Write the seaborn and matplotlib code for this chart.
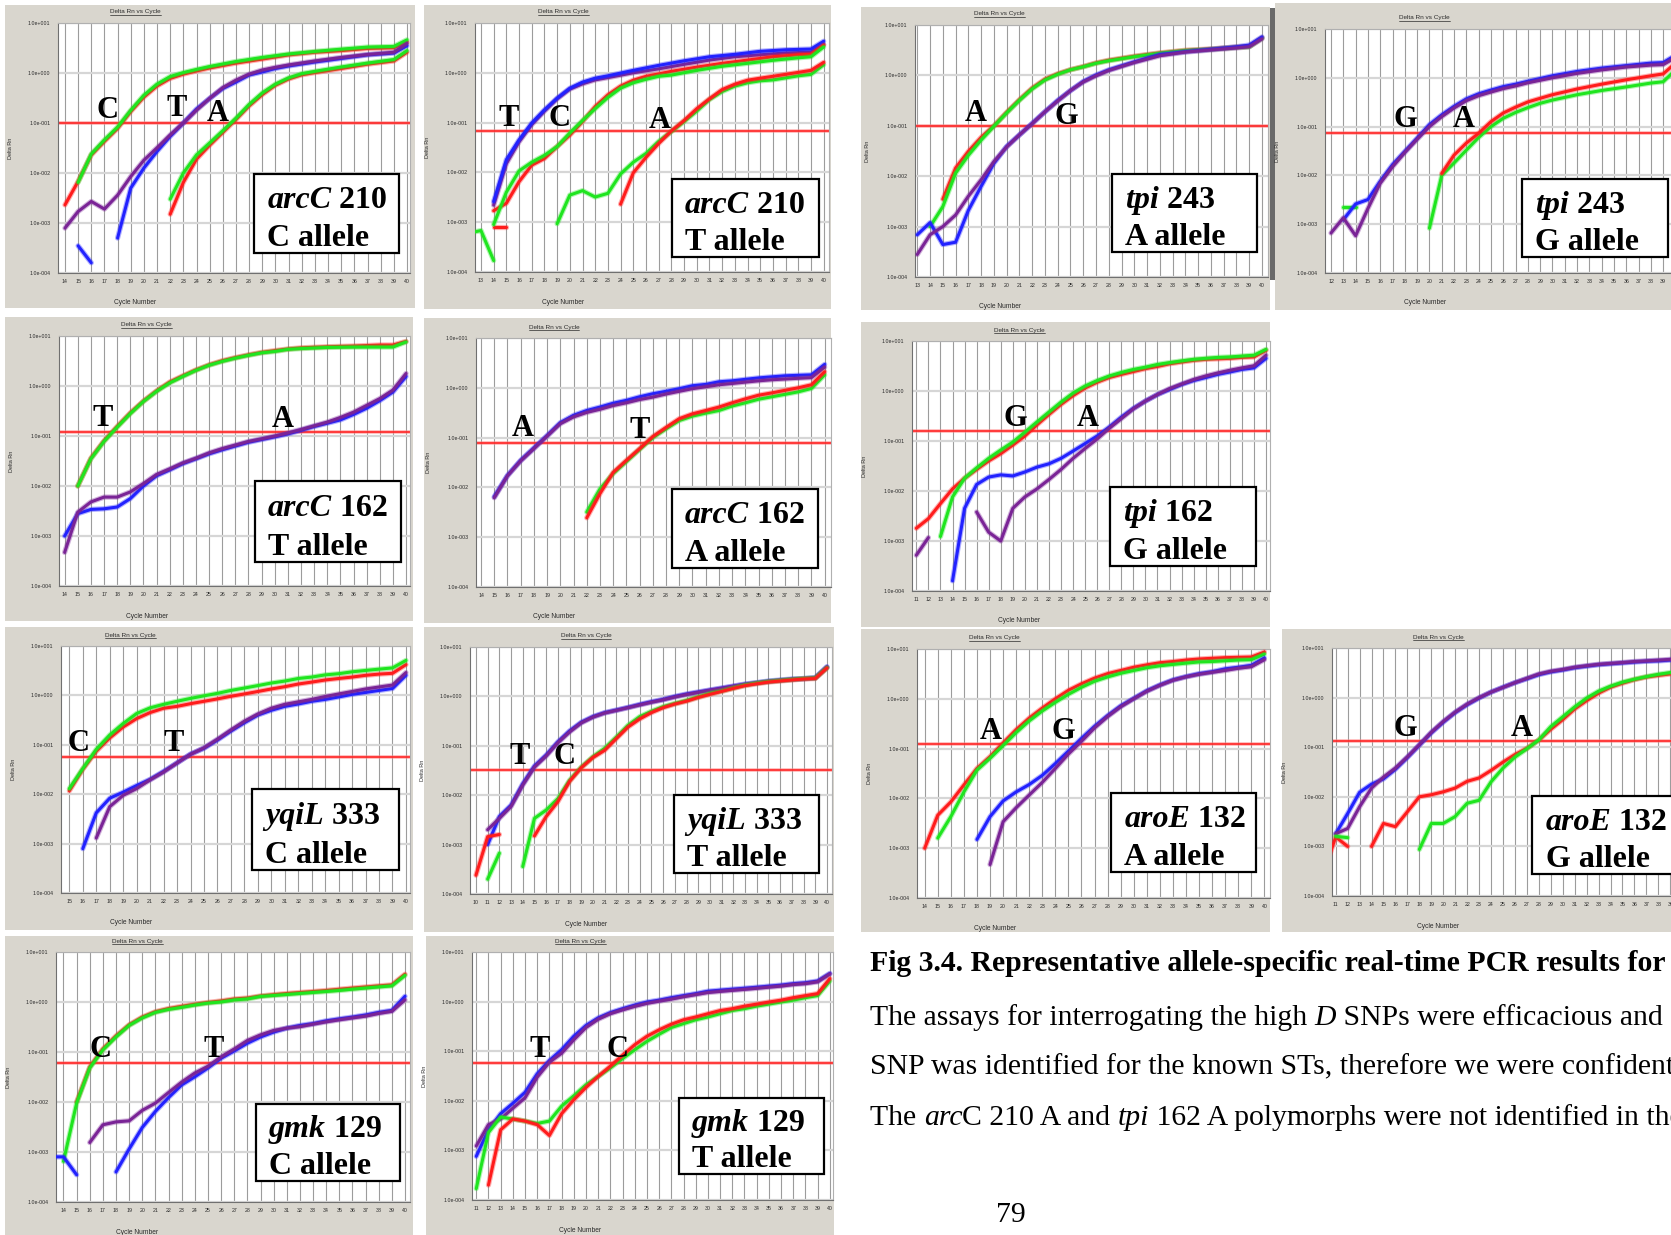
import numpy as np
import pandas as pd
import matplotlib
matplotlib.use("Agg")
import matplotlib.pyplot as plt
import matplotlib.patheffects as pe
from matplotlib.patches import Rectangle
from matplotlib.lines import Line2D
from matplotlib.ticker import NullLocator
import seaborn as sns

# ======================= DATA (Delta Rn) =======================
# each series: (colour, [(cycle, delta_rn), ...])
ARCC210_C = [
    ("red", [(14,2.3e-3),(15,6.8e-3),(16,2.3e-2),(17,4.3e-2),(18,7.8e-2),(19,0.17),(20,0.33),(21,0.55),(22,0.78),(23,0.95),(24,1.1),(25,1.26),(27,1.58),(29,1.9),(31,2.3),(33,2.6),(35,2.8),(37,3.1),(39,3.2),(40,4.2)]),
    ("green", [(15,6.5e-3),(16,2.4e-2),(17,4.6e-2),(18,8.3e-2),(19,0.18),(20,0.36),(21,0.6),(22,0.85),(23,1.02),(24,1.18),(25,1.35),(27,1.7),(29,2.05),(31,2.4),(33,2.7),(35,3.0),(37,3.3),(39,3.4),(40,4.6)]),
    ("blue", [(15,3.5e-4),(16,1.6e-4)]),
    ("blue", [(18,5.0e-4),(19,5.0e-3),(20,1.26e-2),(21,2.7e-2),(22,5.4e-2),(23,0.1),(24,0.19),(25,0.31),(26,0.49),(27,0.66),(28,0.91),(29,1.05),(30,1.23),(31,1.38),(33,1.66),(35,1.95),(37,2.3),(39,2.5),(40,3.5)]),
    ("purple", [(14,7.9e-4),(15,1.7e-3),(16,2.7e-3),(17,1.9e-3),(18,3.6e-3),(19,8.5e-3),(20,1.8e-2),(21,3.2e-2),(22,5.8e-2),(23,0.1),(24,0.18),(25,0.31),(26,0.51),(27,0.72),(28,0.95),(29,1.15),(30,1.3),(31,1.45),(33,1.74),(35,2.05),(37,2.35),(39,2.6),(40,3.9)]),
    ("red", [(22,1.5e-3),(23,6.5e-3),(24,1.9e-2),(25,3.6e-2),(26,6.5e-2),(27,0.118),(28,0.22),(29,0.37),(30,0.57),(31,0.76),(32,0.92),(33,1.02),(35,1.23),(37,1.5),(39,1.74),(40,2.6)]),
    ("green", [(22,3.0e-3),(23,1.0e-2),(24,2.3e-2),(25,4.0e-2),(26,7.0e-2),(27,0.125),(28,0.235),(29,0.4),(30,0.6),(31,0.8),(32,0.97),(33,1.08),(35,1.32),(37,1.58),(39,1.86),(40,2.8)]),
]
ARCC210_T = [
    ("purple", [(14,2.2e-3),(15,1.5e-2),(16,4.1e-2),(17,0.091),(18,0.17),(19,0.30),(20,0.47),(21,0.6),(22,0.72),(23,0.8),(25,1.0),(27,1.2),(29,1.48),(31,1.8),(33,2.1),(35,2.3),(37,2.5),(39,2.6),(40,3.7)]),
    ("blue", [(14,2.6e-3),(15,1.8e-2),(16,4.5e-2),(17,0.098),(18,0.18),(19,0.31),(20,0.49),(21,0.65),(22,0.78),(23,0.87),(25,1.12),(27,1.41),(29,1.74),(31,2.1),(33,2.35),(35,2.7),(37,2.9),(39,3.0),(40,4.3)]),
    ("red", [(14,8e-4),(15,8e-4)]),
    ("red", [(14,1.7e-3),(15,2.4e-3),(16,6.5e-3),(17,1.4e-2),(18,1.9e-2),(19,3.3e-2),(20,5.6e-2),(21,0.105),(22,0.21),(23,0.36),(24,0.54),(25,0.71),(26,0.85),(27,0.95),(28,1.07),(30,1.3),(32,1.55),(34,1.8),(36,2.1),(38,2.3),(39,2.35),(40,3.6)]),
    ("green", [(12,6.0e-4),(13,6.8e-4),(14,1.7e-4)]),
    ("green", [(14,9e-4),(15,4e-3),(16,1.07e-2),(17,1.6e-2),(18,2.2e-2),(19,3.3e-2),(20,6.2e-2),(21,0.11),(22,0.19),(23,0.32),(24,0.49),(25,0.63),(26,0.74),(27,0.85),(28,0.9),(30,1.12),(32,1.35),(34,1.55),(36,1.78),(38,2.0),(39,2.1),(40,3.3)]),
    ("green", [(19,9.3e-4),(20,3.5e-3),(21,4.3e-3),(22,3.2e-3),(23,3.8e-3),(24,9.3e-3),(25,1.6e-2),(26,2.4e-2),(27,4.2e-2),(28,6.6e-2),(29,0.105),(30,0.17),(31,0.29),(32,0.42),(33,0.54),(34,0.63),(35,0.69),(36,0.72),(37,0.79),(38,0.87),(39,0.93),(40,1.45)]),
    ("red", [(24,2.3e-3),(25,9.8e-3),(26,2.0e-2),(27,3.8e-2),(28,6.8e-2),(29,0.11),(30,0.19),(31,0.30),(32,0.46),(33,0.59),(34,0.71),(35,0.78),(36,0.85),(37,0.93),(38,1.02),(39,1.12),(40,1.62)]),
]
TPI243_A = [
    ("red", [(15,3.5e-3),(16,1.45e-2),(17,3.1e-2),(18,5.9e-2),(19,0.1),(20,0.185),(21,0.33),(22,0.56),(23,0.84),(24,1.08),(25,1.3),(26,1.5),(27,1.77),(28,2.0),(30,2.4),(32,2.8),(34,3.15),(36,3.35),(38,3.65),(39,3.75),(40,5.6)]),
    ("green", [(14,1e-3),(15,2.5e-3),(16,1.15e-2),(17,2.6e-2),(18,5.2e-2),(19,0.098),(20,0.18),(21,0.32),(22,0.54),(23,0.81),(24,1.05),(25,1.29),(26,1.48),(27,1.74),(28,1.95),(30,2.35),(32,2.75),(34,3.1),(36,3.3),(38,3.6),(39,3.7),(40,5.5)]),
    ("blue", [(13,6.9e-4),(14,1.2e-3),(15,4.4e-4),(16,4.9e-4),(17,2.1e-3),(18,6.3e-3),(19,1.8e-2),(20,3.9e-2),(21,6.6e-2),(22,0.112),(23,0.19),(24,0.32),(25,0.5),(26,0.76),(27,1.02),(28,1.29),(29,1.55),(30,1.86),(31,2.2),(32,2.6),(34,2.95),(36,3.3),(38,3.7),(39,4.0),(40,5.8)]),
    ("purple", [(13,2.8e-4),(14,6.9e-4),(15,1e-3),(16,1.7e-3),(17,4e-3),(18,8.5e-3),(19,1.95e-2),(20,3.8e-2),(21,6.6e-2),(22,0.11),(23,0.19),(24,0.31),(25,0.5),(26,0.74),(27,0.98),(28,1.25),(29,1.5),(30,1.8),(31,2.1),(32,2.45),(34,2.9),(36,3.2),(38,3.5),(39,3.7),(40,5.3)]),
]
TPI243_G = [
    ("green", [(13,2.3e-3),(14,2.3e-3)]),
    ("blue", [(13,1.23e-3),(14,2.6e-3),(15,3.2e-3),(16,7.6e-3),(17,1.66e-2),(18,3.1e-2),(19,5.8e-2),(20,0.11),(21,0.174),(22,0.26),(23,0.37),(24,0.47),(25,0.56),(26,0.66),(27,0.74),(28,0.85),(30,1.1),(32,1.35),(34,1.58),(36,1.78),(38,2.0),(39,2.05),(40,2.9)]),
    ("purple", [(12,6.6e-4),(13,1.35e-3),(14,5.8e-4),(15,2.1e-3),(16,6.9e-3),(17,1.5e-2),(18,2.95e-2),(19,5.5e-2),(20,0.1),(21,0.16),(22,0.24),(23,0.34),(24,0.43),(25,0.51),(26,0.6),(27,0.68),(28,0.79),(30,1.0),(32,1.23),(34,1.45),(36,1.66),(38,1.82),(39,1.86),(40,2.6)]),
    ("green", [(20,8.3e-4),(21,1.0e-2),(22,1.8e-2),(23,3.3e-2),(24,6.0e-2),(25,0.1),(26,0.148),(27,0.195),(28,0.245),(29,0.3),(30,0.35),(32,0.45),(34,0.55),(36,0.65),(38,0.78),(39,0.83),(40,1.45)]),
    ("red", [(21,1.1e-2),(22,2.6e-2),(23,4.6e-2),(24,7.3e-2),(25,0.126),(26,0.19),(27,0.25),(28,0.32),(29,0.38),(30,0.45),(32,0.59),(34,0.74),(36,0.91),(38,1.1),(39,1.2),(40,2.0)]),
]
ARCC162_T = [
    ("red", [(15,1.0e-2),(16,3.6e-2),(17,8.0e-2),(18,0.155),(19,0.29),(20,0.5),(21,0.8),(22,1.2),(23,1.6),(24,2.1),(25,2.65),(26,3.2),(27,3.7),(28,4.2),(29,4.7),(30,5.1),(31,5.5),(32,5.8),(34,6.1),(36,6.3),(38,6.6),(39,6.6),(40,7.8)]),
    ("green", [(15,1.0e-2),(16,3.5e-2),(17,7.8e-2),(18,0.15),(19,0.28),(20,0.49),(21,0.78),(22,1.15),(23,1.55),(24,2.05),(25,2.6),(26,3.1),(27,3.6),(28,4.1),(29,4.6),(30,4.9),(31,5.4),(32,5.6),(34,5.9),(36,6.0),(38,6.0),(39,6.0),(40,7.6)]),
    ("blue", [(14,1.0e-3),(15,2.8e-3),(16,3.4e-3),(17,3.5e-3),(18,3.8e-3),(19,5.6e-3),(20,1.0e-2),(21,1.6e-2),(22,2.1e-2),(23,2.8e-2),(24,3.5e-2),(25,4.4e-2),(26,5.3e-2),(27,6.3e-2),(28,7.5e-2),(29,8.5e-2),(30,9.6e-2),(31,0.11),(32,0.13),(33,0.155),(34,0.18),(35,0.21),(36,0.27),(37,0.36),(38,0.51),(39,0.76),(40,1.55)]),
    ("purple", [(14,4.7e-4),(15,3.0e-3),(16,4.8e-3),(17,6.0e-3),(18,6.0e-3),(19,7.6e-3),(20,1.12e-2),(21,1.7e-2),(22,2.2e-2),(23,2.9e-2),(24,3.6e-2),(25,4.6e-2),(26,5.6e-2),(27,6.6e-2),(28,7.8e-2),(29,8.8e-2),(30,0.1),(31,0.115),(32,0.135),(33,0.16),(34,0.19),(35,0.235),(36,0.3),(37,0.41),(38,0.56),(39,0.83),(40,1.78)]),
]
ARCC162_A = [
    ("blue", [(15,6.5e-3),(16,1.74e-2),(17,3.5e-2),(18,6.2e-2),(19,0.11),(20,0.2),(21,0.28),(22,0.35),(23,0.41),(24,0.49),(25,0.56),(26,0.66),(27,0.76),(28,0.85),(29,0.96),(30,1.1),(31,1.17),(32,1.32),(33,1.38),(34,1.48),(35,1.58),(36,1.66),(37,1.74),(38,1.78),(39,1.82),(40,2.95)]),
    ("purple", [(15,6.2e-3),(16,1.7e-2),(17,3.4e-2),(18,6.0e-2),(19,0.107),(20,0.19),(21,0.26),(22,0.32),(23,0.37),(24,0.44),(25,0.5),(26,0.58),(27,0.65),(28,0.75),(29,0.85),(30,0.96),(31,1.05),(32,1.15),(33,1.22),(34,1.3),(35,1.38),(36,1.45),(37,1.5),(38,1.55),(39,1.6),(40,2.6)]),
    ("green", [(22,3.2e-3),(23,9.3e-3),(24,1.9e-2),(25,3.3e-2),(26,5.8e-2),(27,0.1),(28,0.15),(29,0.22),(30,0.27),(31,0.31),(32,0.35),(33,0.43),(34,0.5),(35,0.59),(36,0.66),(37,0.74),(38,0.83),(39,0.97),(40,1.82)]),
    ("red", [(22,2.45e-3),(23,7.5e-3),(24,2.0e-2),(25,3.5e-2),(26,6.0e-2),(27,0.105),(28,0.16),(29,0.24),(30,0.3),(31,0.35),(32,0.41),(33,0.5),(34,0.6),(35,0.71),(36,0.79),(37,0.89),(38,1.0),(39,1.15),(40,2.1)]),
]
TPI162_G = [
    ("red", [(11,1.8e-3),(12,2.8e-3),(13,5.6e-3),(14,1.1e-2),(15,1.8e-2),(16,2.7e-2),(17,4.0e-2),(18,5.6e-2),(19,8.3e-2),(20,0.126),(21,0.21),(22,0.34),(23,0.54),(24,0.81),(25,1.15),(26,1.5),(27,1.86),(28,2.15),(29,2.45),(30,2.8),(31,3.1),(32,3.5),(33,3.8),(34,4.1),(35,4.3),(36,4.4),(37,4.5),(38,4.7),(39,4.8),(40,6.5)]),
    ("green", [(13,1.23e-3),(14,7.6e-3),(15,1.8e-2),(16,2.9e-2),(17,4.5e-2),(18,6.6e-2),(19,9.5e-2),(20,0.15),(21,0.24),(22,0.38),(23,0.6),(24,0.91),(25,1.26),(26,1.62),(27,2.0),(28,2.35),(29,2.7),(30,3.0),(31,3.4),(32,3.7),(33,4.0),(34,4.3),(35,4.5),(36,4.7),(37,4.8),(38,5.0),(39,5.2),(40,6.8)]),
    ("blue", [(14,1.6e-4),(15,4.5e-3),(16,1.35e-2),(17,1.9e-2),(18,2.1e-2),(19,2.0e-2),(20,2.4e-2),(21,3.0e-2),(22,3.5e-2),(23,4.5e-2),(24,6.3e-2),(25,8.9e-2),(26,0.126),(27,0.19),(28,0.3),(29,0.45),(30,0.63),(31,0.85),(32,1.07),(33,1.35),(34,1.62),(35,1.86),(36,2.15),(37,2.4),(38,2.7),(39,2.9),(40,4.5)]),
    ("purple", [(11,5.2e-4),(12,1.17e-3)]),
    ("purple", [(16,3.8e-3),(17,1.5e-3),(18,1.0e-3),(19,4.5e-3),(20,7.6e-3),(21,1.1e-2),(22,1.7e-2),(23,2.7e-2),(24,4.5e-2),(25,7.1e-2),(26,0.11),(27,0.18),(28,0.28),(29,0.44),(30,0.63),(31,0.85),(32,1.12),(33,1.38),(34,1.7),(35,2.0),(36,2.3),(37,2.6),(38,2.9),(39,3.2),(40,5.2)]),
]
YQIL333_C = [
    ("red", [(15,1.17e-2),(16,3.2e-2),(17,7.4e-2),(18,0.138),(19,0.23),(20,0.34),(21,0.45),(22,0.55),(23,0.6),(24,0.68),(25,0.76),(26,0.85),(27,0.96),(28,1.07),(29,1.2),(30,1.35),(31,1.5),(32,1.7),(33,1.86),(34,2.05),(35,2.2),(36,2.35),(37,2.55),(38,2.7),(39,2.8),(40,4.2)]),
    ("green", [(15,1.3e-2),(16,3.3e-2),(17,8.1e-2),(18,0.158),(19,0.27),(20,0.43),(21,0.56),(22,0.66),(23,0.76),(24,0.87),(25,0.98),(26,1.1),(27,1.26),(28,1.41),(29,1.58),(30,1.78),(31,1.95),(32,2.2),(33,2.35),(34,2.6),(35,2.75),(36,3.0),(37,3.2),(38,3.4),(39,3.6),(40,5.1)]),
    ("blue", [(16,7.9e-4),(17,4.2e-3),(18,8.3e-3),(19,1.1e-2),(20,1.5e-2),(21,2.0e-2),(22,2.9e-2),(23,4.3e-2),(24,6.5e-2),(25,8.5e-2),(26,0.125),(27,0.19),(28,0.28),(29,0.4),(30,0.5),(31,0.6),(32,0.67),(33,0.76),(34,0.83),(35,0.93),(36,1.05),(37,1.15),(38,1.26),(39,1.38),(40,2.55)]),
    ("purple", [(17,1.3e-3),(18,5.6e-3),(19,9.5e-3),(20,1.3e-2),(21,1.95e-2),(22,2.8e-2),(23,4.3e-2),(24,6.4e-2),(25,8.7e-2),(26,0.13),(27,0.2),(28,0.3),(29,0.42),(30,0.55),(31,0.66),(32,0.74),(33,0.83),(34,0.95),(35,1.07),(36,1.2),(37,1.35),(38,1.48),(39,1.62),(40,2.9)]),
]
YQIL333_T = [
    ("blue", [(11,1e-3),(12,3.7e-3),(13,6.3e-3),(14,1.7e-2),(15,3.9e-2),(16,6.5e-2),(17,0.12),(18,0.2),(19,0.3),(20,0.39),(21,0.47),(22,0.53),(23,0.6),(24,0.69),(25,0.78),(26,0.87),(27,1.0),(28,1.12),(29,1.23),(30,1.35),(31,1.48),(32,1.62),(33,1.78),(34,1.9),(35,2.05),(36,2.15),(37,2.25),(38,2.3),(39,2.4),(40,4.0)]),
    ("purple", [(11,2.0e-3),(12,3.4e-3),(13,5.9e-3),(14,1.6e-2),(15,3.7e-2),(16,6.2e-2),(17,0.115),(18,0.19),(19,0.29),(20,0.38),(21,0.46),(22,0.52),(23,0.59),(24,0.67),(25,0.76),(26,0.85),(27,0.97),(28,1.09),(29,1.2),(30,1.33),(31,1.45),(32,1.6),(33,1.75),(34,1.88),(35,2.0),(36,2.1),(37,2.2),(38,2.27),(39,2.36),(40,3.9)]),
    ("red", [(10,2.4e-4),(11,1.45e-3),(12,1.6e-3)]),
    ("green", [(11,2.0e-4),(12,6.7e-4)]),
    ("green", [(14,3.6e-4),(15,3.4e-3),(16,5.0e-3),(17,8.5e-3),(18,2.0e-2),(19,3.7e-2),(20,6.0e-2),(21,8.9e-2),(22,0.15),(23,0.26),(24,0.39),(25,0.5),(26,0.62),(27,0.72),(28,0.83),(29,0.98),(30,1.15),(31,1.29),(32,1.48),(33,1.7),(34,1.86),(35,2.0),(36,2.1),(37,2.2),(38,2.3),(39,2.35),(40,3.8)]),
    ("red", [(15,1.5e-3),(16,3.7e-3),(17,7.4e-3),(18,1.9e-2),(19,3.6e-2),(20,5.8e-2),(21,8.1e-2),(22,0.14),(23,0.24),(24,0.35),(25,0.47),(26,0.59),(27,0.7),(28,0.8),(29,0.95),(30,1.1),(31,1.26),(32,1.45),(33,1.65),(34,1.8),(35,1.95),(36,2.05),(37,2.15),(38,2.25),(39,2.3),(40,3.75)]),
]
AROE132_A = [
    ("red", [(14,1.0e-3),(15,4.6e-3),(16,8.5e-3),(17,1.86e-2),(18,4.0e-2),(19,6.9e-2),(20,0.13),(21,0.24),(22,0.41),(23,0.65),(24,1.0),(25,1.48),(26,2.0),(27,2.6),(28,3.2),(29,3.7),(30,4.3),(31,4.8),(32,5.3),(33,5.6),(34,6.0),(35,6.3),(36,6.5),(37,6.7),(38,6.8),(39,6.9),(40,8.7)]),
    ("green", [(15,1.6e-3),(16,4.3e-3),(17,1.35e-2),(18,3.7e-2),(19,6.4e-2),(20,0.115),(21,0.21),(22,0.36),(23,0.57),(24,0.85),(25,1.23),(26,1.7),(27,2.25),(28,2.75),(29,3.25),(30,3.7),(31,4.2),(32,4.6),(33,4.9),(34,5.2),(35,5.5),(36,5.6),(37,5.8),(38,6.0),(39,6.1),(40,7.9)]),
    ("blue", [(18,1.5e-3),(19,4.3e-3),(20,8.9e-3),(21,1.35e-2),(22,1.9e-2),(23,2.9e-2),(24,5.0e-2),(25,8.9e-2),(26,0.16),(27,0.28),(28,0.46),(29,0.72),(30,1.02),(31,1.45),(32,1.9),(33,2.4),(34,2.8),(35,3.2),(36,3.5),(37,4.0),(38,4.3),(39,4.7),(40,6.6)]),
    ("purple", [(19,4.7e-4),(20,3.4e-3),(21,6.5e-3),(22,1.17e-2),(23,2.1e-2),(24,4.0e-2),(25,7.8e-2),(26,0.14),(27,0.26),(28,0.44),(29,0.69),(30,1.0),(31,1.41),(32,1.86),(33,2.35),(34,2.75),(35,3.1),(36,3.4),(37,3.7),(38,4.1),(39,4.4),(40,6.1)]),
]
AROE132_G = [
    ("blue", [(11,1.8e-3),(12,4.6e-3),(13,1.23e-2),(14,1.8e-2),(15,2.3e-2),(16,3.6e-2),(17,6.2e-2),(18,0.11),(19,0.195),(20,0.32),(21,0.5),(22,0.72),(23,0.98),(24,1.29),(25,1.62),(26,2.0),(27,2.4),(28,2.9),(29,3.3),(30,3.6),(31,4.0),(32,4.3),(33,4.6),(34,4.8),(35,5.0),(36,5.2),(37,5.4),(38,5.5),(39,5.7),(40,5.9)]),
    ("purple", [(11,1.8e-3),(12,2.3e-3),(13,6.3e-3),(14,1.5e-2),(15,2.5e-2),(16,3.8e-2),(17,6.4e-2),(18,0.112),(19,0.2),(20,0.33),(21,0.51),(22,0.74),(23,1.0),(24,1.29),(25,1.6),(26,2.0),(27,2.45),(28,3.0),(29,3.4),(30,3.7),(31,4.1),(32,4.4),(33,4.7),(34,4.9),(35,5.1),(36,5.35),(37,5.5),(38,5.7),(39,5.9),(40,6.1)]),
    ("red", [(10,3.0e-4),(11,1.55e-3),(12,1.0e-3)]),
    ("green", [(11,1.6e-3),(12,1.5e-3)]),
    ("red", [(14,1.0e-3),(15,2.9e-3),(16,2.5e-3),(17,5.0e-3),(18,1.0e-2),(19,1.1e-2),(20,1.26e-2),(21,1.5e-2),(22,2.05e-2),(23,2.4e-2),(24,3.4e-2),(25,5.0e-2),(26,7.1e-2),(27,9.5e-2),(28,0.14),(29,0.23),(30,0.36),(31,0.59),(32,0.87),(33,1.23),(34,1.62),(35,1.95),(36,2.3),(37,2.6),(38,2.8),(39,3.0),(40,3.3)]),
    ("green", [(18,8.7e-4),(19,2.9e-3),(20,2.9e-3),(21,4.0e-3),(22,7.4e-3),(23,8.5e-3),(24,2.0e-2),(25,3.8e-2),(26,6.3e-2),(27,9.3e-2),(28,0.14),(29,0.26),(30,0.41),(31,0.65),(32,0.98),(33,1.35),(34,1.7),(35,2.05),(36,2.35),(37,2.65),(38,2.95),(39,3.2),(40,3.5)]),
]
GMK129_C = [
    ("red", [(15,1.0e-2),(16,5e-2),(17,0.115),(18,0.21),(19,0.35),(20,0.5),(21,0.64),(22,0.74),(23,0.82),(24,0.9),(25,0.98),(26,1.05),(27,1.15),(28,1.2),(29,1.32),(30,1.4),(31,1.48),(32,1.55),(33,1.62),(34,1.7),(35,1.8),(36,1.9),(37,2.0),(38,2.1),(39,2.2),(40,3.6)]),
    ("green", [(14,6.5e-4),(15,9.5e-3),(16,4.8e-2),(17,0.11),(18,0.2),(19,0.34),(20,0.48),(21,0.62),(22,0.71),(23,0.78),(24,0.87),(25,0.95),(26,1.0),(27,1.1),(28,1.15),(29,1.29),(30,1.35),(31,1.41),(32,1.48),(33,1.55),(34,1.62),(35,1.7),(36,1.8),(37,1.9),(38,2.0),(39,2.1),(40,3.4)]),
    ("blue", [(13,8e-4),(14,8e-4),(15,3.5e-4)]),
    ("blue", [(18,4e-4),(19,1.15e-3),(20,3.1e-3),(21,6.5e-3),(22,1.23e-2),(23,2.2e-2),(24,3.2e-2),(25,4.8e-2),(26,7.5e-2),(27,0.105),(28,0.15),(29,0.2),(30,0.25),(31,0.3),(32,0.34),(33,0.37),(34,0.42),(35,0.46),(36,0.5),(37,0.55),(38,0.62),(39,0.68),(40,1.3)]),
    ("purple", [(16,1.55e-3),(17,3.5e-3),(18,4e-3),(19,4.2e-3),(20,6.8e-3),(21,9.5e-3),(22,1.55e-2),(23,2.5e-2),(24,3.8e-2),(25,5.2e-2),(26,8.0e-2),(27,0.115),(28,0.17),(29,0.22),(30,0.27),(31,0.3),(32,0.32),(33,0.36),(34,0.4),(35,0.44),(36,0.48),(37,0.52),(38,0.59),(39,0.65),(40,1.1)]),
]
GMK129_T = [
    ("blue", [(11,7.6e-4),(12,2.6e-3),(13,5.5e-3),(14,8.9e-3),(15,1.48e-2),(16,3.5e-2),(17,6.5e-2),(18,0.107),(19,0.2),(20,0.33),(21,0.47),(22,0.6),(23,0.72),(24,0.85),(25,0.98),(26,1.07),(27,1.2),(28,1.32),(29,1.45),(30,1.62),(31,1.7),(32,1.78),(33,1.86),(34,1.95),(35,2.05),(36,2.15),(37,2.3),(38,2.4),(39,2.6),(40,3.7)]),
    ("purple", [(11,1.23e-3),(12,3.3e-3),(13,4.3e-3),(14,7.1e-3),(15,1.15e-2),(16,3.0e-2),(17,6.0e-2),(18,9.1e-2),(19,0.17),(20,0.3),(21,0.44),(22,0.57),(23,0.68),(24,0.8),(25,0.92),(26,1.02),(27,1.12),(28,1.25),(29,1.38),(30,1.52),(31,1.6),(32,1.68),(33,1.76),(34,1.85),(35,1.95),(36,2.05),(37,2.2),(38,2.3),(39,2.5),(40,3.6)]),
    ("green", [(11,1.7e-4),(12,2.3e-3),(13,4.7e-3),(14,4.3e-3),(15,3.9e-3),(16,3.5e-3),(17,3.9e-3),(18,7.8e-3),(19,1.26e-2),(20,2.1e-2),(21,3.1e-2),(22,4.6e-2),(23,7.1e-2),(24,0.107),(25,0.158),(26,0.22),(27,0.3),(28,0.36),(29,0.43),(30,0.49),(31,0.57),(32,0.66),(33,0.72),(34,0.81),(35,0.89),(36,0.98),(37,1.07),(38,1.2),(39,1.32),(40,2.6)]),
    ("red", [(12,2e-4),(13,2.6e-3),(14,4.3e-3),(15,3.9e-3),(16,3.3e-3),(17,2.0e-3),(18,5.5e-3),(19,1.05e-2),(20,1.86e-2),(21,3.1e-2),(22,5.0e-2),(23,8.3e-2),(24,0.135),(25,0.2),(26,0.27),(27,0.35),(28,0.43),(29,0.49),(30,0.57),(31,0.66),(32,0.72),(33,0.81),(34,0.89),(35,0.98),(36,1.07),(37,1.2),(38,1.32),(39,1.45),(40,2.9)]),
]

# thresholds (red horizontal lines)
THR_ARCC210_C, THR_ARCC210_T = 0.10, 0.068
THR_TPI243_A, THR_TPI243_G = 0.10, 0.073
THR_ARCC162_T, THR_ARCC162_A, THR_TPI162_G = 0.12, 0.079, 0.158
THR_YQIL333_C, THR_YQIL333_T = 0.057, 0.032
THR_AROE132_A, THR_AROE132_G = 0.123, 0.132
THR_GMK129_C, THR_GMK129_T = 0.059, 0.059

YTICKS = [1e-4, 1e-3, 1e-2, 1e-1, 1e0, 1e1]
YTICK_LABELS = ["1.0e-004", "1.0e-003", "1.0e-002", "1.0e-001", "1.0e+000", "1.0e+001"]

CAPTION = [
    [("Fig 3.4. Representative allele-specific real-time PCR results for", "b")],
    [("The assays for interrogating the high ", "r"), ("D", "i"), (" SNPs were efficacious and", "r")],
    [("SNP was identified for the known STs, therefore we were confident", "r")],
    [("The ", "r"), ("arc", "i"), ("C 210 A and ", "r"), ("tpi", "i"), (" 162 A polymorphs were not identified in the", "r")],
]
PAGE_NUMBER = "79"

# ======================= LAYOUT / STYLE =======================
W, H = 1671, 1235
sns.set_style("white")
plt.rcParams["font.family"] = ["Liberation Sans", "DejaVu Sans"]
SERIF = ["Liberation Serif", "DejaVu Serif"]
COLORS = {"red": "#ff1c1c", "green": "#1fe51f", "blue": "#2222ff", "purple": "#7a2496"}
BG = "#d9d6ce"

PANELS = [
    dict(series=ARCC210_C, thr=THR_ARCC210_C, gene="arcC", num="210", allele="C allele",
         bg=(5, 5, 415, 308), ax=(58, 23, 410, 273), xlim=(13.47, 40.23), first=14,
         box=(0.557, 0.08, 0.97, 0.396), tfrac=0.22,
         letters=[("C", 17.2, 0.18), ("T", 22.5, 0.195), ("A", 25.65, 0.155)]),
    dict(series=ARCC210_T, thr=THR_ARCC210_T, gene="arcC", num="210", allele="T allele",
         bg=(424, 5, 831, 309), ax=(475, 23, 829, 272), xlim=(12.53, 40.42), first=13,
         box=(0.556, 0.06, 0.972, 0.373), tfrac=0.25,
         letters=[("T", 15.15, 0.123), ("C", 19.2, 0.123), ("A", 27.1, 0.11)]),
    dict(series=TPI243_A, thr=THR_TPI243_A, gene="tpi", num="243", allele="A allele",
         bg=(861, 7, 1270, 310), ax=(915, 25, 1268, 277), xlim=(12.82, 40.47), first=13,
         box=(0.558, 0.099, 0.969, 0.409), tfrac=0.24,
         letters=[("A", 17.57, 0.178), ("G", 24.67, 0.15)]),
    dict(series=TPI243_G, thr=THR_TPI243_G, gene="tpi", num="243", allele="G allele",
         bg=(1275, 3, 1671, 310), ax=(1325, 29, 1681, 273), xlim=(11.51, 40.45), first=12,
         box=(0.553, 0.066, 0.963, 0.385), tfrac=0.28,
         letters=[("G", 18.04, 0.138), ("A", 22.8, 0.138)]),
    dict(series=ARCC162_T, thr=THR_ARCC162_T, gene="arcC", num="162", allele="T allele",
         bg=(5, 317, 413, 621), ax=(59, 336, 410, 586), xlim=(13.57, 40.3), first=14,
         box=(0.558, 0.096, 0.974, 0.42), tfrac=0.25,
         letters=[("T", 16.92, 0.22), ("A", 30.6, 0.215)]),
    dict(series=ARCC162_A, thr=THR_ARCC162_A, gene="arcC", num="162", allele="A allele",
         bg=(424, 318, 831, 623), ax=(476, 338, 831, 587), xlim=(13.62, 40.48), first=14,
         box=(0.552, 0.076, 0.963, 0.394), tfrac=0.22,
         letters=[("A", 17.16, 0.15), ("T", 25.97, 0.14)]),
    dict(series=TPI162_G, thr=THR_TPI162_G, gene="tpi", num="162", allele="G allele",
         bg=(861, 322, 1270, 627), ax=(912, 341, 1270, 591), xlim=(10.64, 40.33), first=11,
         box=(0.553, 0.1, 0.961, 0.416), tfrac=0.3,
         letters=[("G", 19.2, 0.28), ("A", 25.2, 0.28)]),
    dict(series=YQIL333_C, thr=THR_YQIL333_C, gene="yqiL", num="333", allele="C allele",
         bg=(5, 627, 413, 930), ax=(61, 646, 410, 893), xlim=(14.38, 40.3), first=15,
         box=(0.547, 0.093, 0.968, 0.421), tfrac=0.2,
         letters=[("C", 15.67, 0.107), ("T", 22.77, 0.107)]),
    dict(series=YQIL333_T, thr=THR_YQIL333_T, gene="yqiL", num="333", allele="T allele",
         bg=(424, 627, 834, 932), ax=(470, 647, 832, 894), xlim=(9.49, 40.43), first=10,
         box=(0.564, 0.085, 0.964, 0.401), tfrac=0.32,
         letters=[("T", 13.76, 0.06), ("C", 17.53, 0.06)]),
    dict(series=AROE132_A, thr=THR_AROE132_A, gene="aroE", num="132", allele="A allele",
         bg=(861, 629, 1270, 932), ax=(917, 649, 1270, 898), xlim=(13.41, 40.43), first=14,
         box=(0.55, 0.104, 0.96, 0.422), tfrac=0.22,
         letters=[("A", 19.08, 0.22), ("G", 24.6, 0.22)]),
    dict(series=AROE132_G, thr=THR_AROE132_G, gene="aroE", num="132", allele="G allele",
         bg=(1282, 629, 1671, 932), ax=(1332, 648, 1687, 896), xlim=(10.69, 40.4), first=11,
         box=(0.563, 0.089, 0.99, 0.403), tfrac=0.3,
         letters=[("G", 16.84, 0.24), ("A", 26.6, 0.24)]),
    dict(series=GMK129_C, thr=THR_GMK129_C, gene="gmk", num="129", allele="C allele",
         bg=(5, 936, 413, 1235), ax=(56, 952, 410, 1202), xlim=(13.43, 40.38), first=14,
         box=(0.564, 0.084, 0.972, 0.392), tfrac=0.23,
         letters=[("C", 16.85, 0.11), ("T", 25.4, 0.11)]),
    dict(series=GMK129_T, thr=THR_GMK129_T, gene="gmk", num="129", allele="T allele",
         bg=(426, 936, 834, 1235), ax=(472, 952, 833, 1200), xlim=(10.65, 40.26), first=11,
         box=(0.573, 0.105, 0.975, 0.411), tfrac=0.3,
         letters=[("T", 16.24, 0.107), ("C", 22.6, 0.107)]),
]

fig = plt.figure(figsize=(W / 100, H / 100), dpi=100)
fig.patch.set_facecolor("white")
renderer = fig.canvas.get_renderer()


def fx(x):
    return x / W


def fy(y):
    return 1.0 - y / H


def add_rect_px(x0, y0, x1, y1, face, edge="none", lw=0.0, z=-5):
    fig.add_artist(Rectangle((fx(x0), fy(y1)), (x1 - x0) / W, (y1 - y0) / H,
                             transform=fig.transFigure, facecolor=face,
                             edgecolor=edge, linewidth=lw, zorder=z))


def advance(s, **kw):
    t1 = fig.text(0, 0, "|" + s + "|", **kw)
    t2 = fig.text(0, 0, "||", **kw)
    w = t1.get_window_extent(renderer).width - t2.get_window_extent(renderer).width
    t1.remove()
    t2.remove()
    return w


def seq_text(x, y, segments, z=12, **common):
    for s, style in segments:
        kw = dict(common)
        kw.update(style)
        fig.text(fx(x), fy(y), s, ha="left", va="baseline", zorder=z, **kw)
        x += advance(s, **kw)
    return x


def draw_panel(p):
    add_rect_px(*p["bg"], BG, z=-5)
    a0, b0, a1, b1 = p["ax"]
    aw, ah = a1 - a0, b1 - b0
    ax = fig.add_axes([fx(a0), fy(b1), aw / W, ah / H])
    ax.set_facecolor("white")
    ax.set_yscale("log")
    for color, pts in p["series"]:
        df = pd.DataFrame(pts, columns=["cycle", "delta_rn"])
        c = COLORS[color]
        sns.lineplot(data=df, x="cycle", y="delta_rn", ax=ax, color=c, linewidth=2.2,
                     estimator=None, sort=False, legend=False, zorder=3,
                     path_effects=[pe.Stroke(linewidth=3.8, foreground=c, alpha=0.35), pe.Normal()])
    ax.axhline(p["thr"], color="#ff2424", lw=1.2, zorder=2.5,
               path_effects=[pe.Stroke(linewidth=2.8, foreground="#ff8080", alpha=0.5), pe.Normal()])
    ax.set_xlim(*p["xlim"])
    ax.set_ylim(1e-4, 1e1)
    ticks = list(range(p["first"], 41))
    ax.set_xticks(ticks)
    ax.set_xticklabels([str(t) for t in ticks])
    ax.set_yticks(YTICKS)
    ax.set_yticklabels(YTICK_LABELS)
    ax.yaxis.set_minor_locator(NullLocator())
    ax.xaxis.set_minor_locator(NullLocator())
    ax.grid(False)
    ax.xaxis.grid(True, color="#9c9c9c", lw=0.8)
    ax.yaxis.grid(True, color="#d6d6d6", lw=1.6)
    ax.set_axisbelow(True)
    ax.tick_params(axis="both", length=0, labelsize=3.8, labelcolor="#2a2a2a")
    ax.tick_params(axis="y", pad=5.5)
    ax.tick_params(axis="x", pad=4.5)
    ax.set_xlabel("")
    ax.set_ylabel("Delta Rn", fontsize=4.0, color="#2a2a2a")
    ax.yaxis.set_label_coords(-45.0 / aw, 0.5)
    for side, sp in ax.spines.items():
        sp.set_color("#707070" if side in ("left", "bottom") else "#b0b0b0")
        sp.set_linewidth(0.8)
    # letters marking the allele curves
    for letter, cx, cy in p["letters"]:
        ax.text(cx, cy, letter, fontsize=22, fontweight="bold", family=SERIF,
                ha="center", va="center", zorder=6, color="black")
    # title (underlined) and x label
    tx = a0 + p["tfrac"] * aw
    t = fig.text(fx(tx), fy(b0 - 11), "Delta Rn vs Cycle", fontsize=4.6,
                 color="#2a2a2a", ha="center", va="center")
    bb = t.get_window_extent(renderer)
    fig.add_artist(Line2D([bb.x0 / W, bb.x1 / W], [(bb.y0 - 0.8) / H] * 2,
                          transform=fig.transFigure, color="#2a2a2a", lw=0.5))
    fig.text(fx(tx), fy(b1 + 30), "Cycle Number", fontsize=4.8, color="#2a2a2a",
             ha="center", va="center")
    # label box
    l, b, r, tp = p["box"]
    bl, br = a0 + l * aw, a0 + r * aw
    bt, bbm = b0 + (1 - tp) * ah, b0 + (1 - b) * ah
    add_rect_px(bl, bt, br, bbm, "white", edge="black", lw=1.6, z=10)
    xs = bl + 0.09 * (br - bl)
    bh = bbm - bt
    common = dict(fontsize=23, family=SERIF, color="black")
    seq_text(xs, bt + 0.43 * bh,
             [(p["gene"], dict(fontweight="bold", fontstyle="italic")),
              (" " + p["num"], dict(fontweight="bold"))], **common)
    seq_text(xs, bt + 0.91 * bh, [(p["allele"], dict(fontweight="bold"))], **common)


for p in PANELS:
    draw_panel(p)

# dark separator strip left of the upper-right panel
add_rect_px(1270, 8, 1275, 280, "#6a6a6a", z=-4)

# ---------------- caption text ----------------
STYLES = {"b": dict(fontweight="bold"), "r": dict(), "i": dict(fontstyle="italic")}
base_kw = dict(family=SERIF, color="black")
w10 = advance(CAPTION[0][0][0], fontsize=10, fontweight="bold", **base_kw)
cap_size = 10 * 798.0 / w10
baselines = [971, 1025, 1074, 1125]
for line, yb in zip(CAPTION, baselines):
    seq_text(870, yb, [(s, STYLES[st]) for s, st in line], fontsize=cap_size, **base_kw)
seq_text(996, 1222, [(PAGE_NUMBER, {})], fontsize=cap_size, **base_kw)

fig.savefig("out.png", dpi=100)
